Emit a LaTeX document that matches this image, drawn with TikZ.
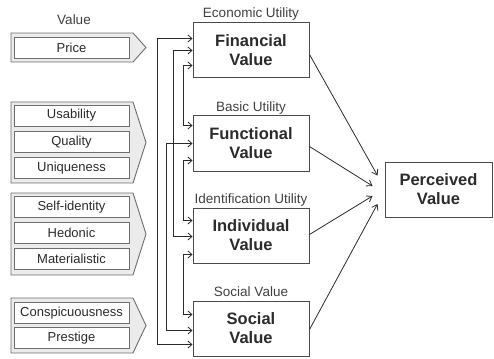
\documentclass[tikz,border=0pt]{standalone}
\usepackage{fontspec}
\setmainfont{Liberation Sans}
\usetikzlibrary{arrows.meta,calc}
\definecolor{ink}{HTML}{2B2B2B}
\definecolor{edge}{HTML}{6E6E6E}
\definecolor{chev}{HTML}{EBEBEB}
\begin{document}
\begin{tikzpicture}[x=1pt,y=-1pt,
  bigbox/.style={draw=ink!85, line width=1pt, minimum width=116pt, minimum height=55pt, align=center,
    font=\fontsize{16.5}{19}\selectfont\bfseries, text=ink, inner sep=0pt},
  tag/.style={font=\fontsize{13.5}{15}\selectfont, text=ink!90, inner sep=0pt, anchor=base},
  item/.style={draw=edge, fill=white, line width=0.8pt, minimum width=115pt, minimum height=21pt,
    font=\fontsize{13}{15}\selectfont, text=ink, inner sep=0pt},
  chevron/.style={draw=edge, fill=chev, line width=0.9pt},
  link/.style={draw=ink, line width=0.8pt, {Straight Barb[length=4pt,width=7pt]}-{Straight Barb[length=4pt,width=7pt]}},
  feed/.style={draw=ink, line width=0.8pt, -{Straight Barb[length=5pt,width=7pt]}}
]
\useasboundingbox (0,0) rectangle (494,358);

% left groups
\node[tag, anchor=center] (valtitle) at (74,20) {Value};
\draw[chevron] (11,33) -- (133,33) -- (146,47.5) -- (133,62) -- (11,62) -- cycle;
\node[item] (price) at (71.5,47.5) {Price};

\draw[chevron] (11,102) -- (133,102) -- (146,142.5) -- (133,183) -- (11,183) -- cycle;
\node[item] (usab) at (71.5,115.5) {Usability};
\node[item] (qual) at (71.5,142) {Quality};
\node[item] (uniq) at (71.5,168) {Uniqueness};

\draw[chevron] (11,193) -- (133,193) -- (146,234) -- (133,275) -- (11,275) -- cycle;
\node[item] (self) at (71.5,207) {Self-identity};
\node[item] (hedo) at (71.5,233) {Hedonic};
\node[item] (mate) at (71.5,259) {Materialistic};

\draw[chevron] (11,298) -- (133,298) -- (146,325.5) -- (133,353) -- (11,353) -- cycle;
\node[item] (consp) at (71.5,313) {Conspicuousness};
\node[item] (prest) at (71.5,338) {Prestige};

% value boxes
\node[bigbox] (fin) at (251,50.5) {Financial\\Value};
\node[bigbox] (func) at (251,143.5) {Functional\\Value};
\node[bigbox] (ind) at (251,235.5) {Individual\\Value};
\node[bigbox] (soc) at (251,328.5) {Social\\Value};
\node[bigbox, minimum width=107pt] (perc) at (438.5,189.5) {Perceived\\Value};

\node[tag] (t1) at ($(fin.north)+(0,-5)$) {Economic Utility};
\node[tag] (t2) at ($(func.north)+(0,-4)$) {Basic Utility};
\node[tag] (t3) at ($(ind.north)+(0,-4)$) {Identification Utility};
\node[tag] (t4) at ($(soc.north)+(0,-4)$) {Social Value};

% bus columns
\coordinate (xa) at (157,0);
\coordinate (xd) at (166,0);
\coordinate (xb) at (173,0);
\coordinate (xc) at (183,0);

\draw[link] ($(fin.north west)+(0,16)$) coordinate (p1) -- (p1 -| xa) |- ($(soc.north west)+(0,44)$);
\draw[link] ($(fin.north west)+(0,28)$) coordinate (p2) -- (p2 -| xb) |- ($(ind.north west)+(0,29)$);
\draw[link] ($(func.north west)+(0,28)$) coordinate (p3) -- (p3 -| xd) |- ($(soc.north west)+(0,30)$);
\draw[link] ($(fin.north west)+(0,43)$) coordinate (p4) -- (p4 -| xc) |- ($(func.north west)+(0,10)$);
\draw[link] ($(func.north west)+(0,45)$) coordinate (p5) -- (p5 -| xc) |- ($(ind.north west)+(0,13)$);
\draw[link] ($(ind.north west)+(0,47)$) coordinate (p6) -- (p6 -| xc) |- ($(soc.north west)+(0,14)$);

% to perceived value
\draw[feed] ($(fin.east)+(0,4)$) -- ($(perc.west)+(-7,-14)$);
\draw[feed] ($(func.east)+(0,3)$) -- ($(perc.west)+(-12,-3.5)$);
\draw[feed] ($(ind.east)+(0,-1)$) -- ($(perc.west)+(-12,6.5)$);
\draw[feed] ($(soc.east)+(0,1)$) -- ($(perc.west)+(-7,14.5)$);
\end{tikzpicture}
\end{document}
